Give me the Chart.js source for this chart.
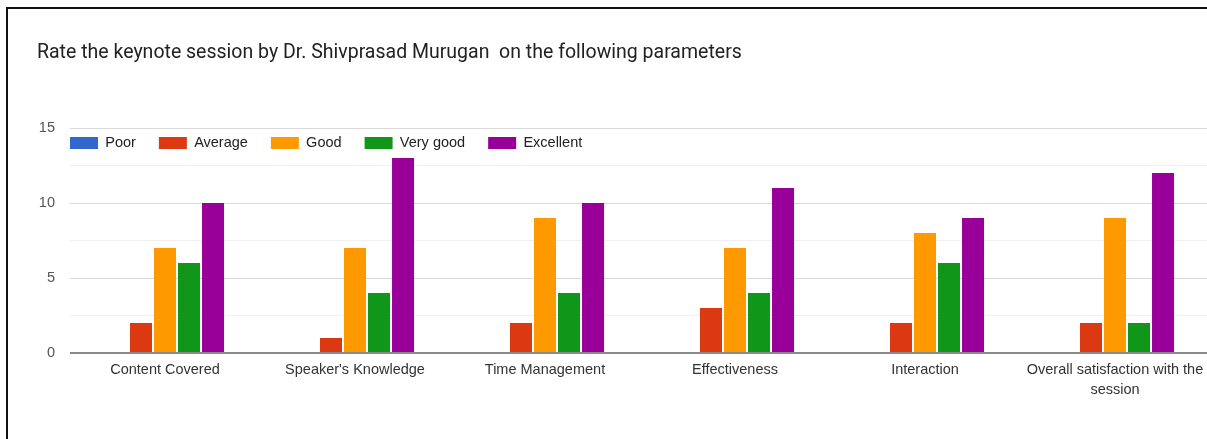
<!DOCTYPE html>
<html>
<head>
<meta charset="utf-8">
<script src="https://cdn.jsdelivr.net/npm/chart.js@4/dist/chart.umd.min.js"></script>
<style>
  html, body { margin: 0; padding: 0; background: #fff; overflow: hidden; width: 1207px; height: 439px; }
  #wrap { position: absolute; left: 0; top: 0; width: 1215px; height: 439px; }
  #frame { position: absolute; left: 6px; top: 7px; width: 1300px; height: 500px;
           border-left: 2px solid #111; border-top: 2px solid #111; pointer-events: none; }
</style>
</head>
<body>
<div id="wrap"><canvas id="c" width="1215" height="439"></canvas></div>
<div id="frame"></div>
<script>
const titleText = "Rate the keynote session by Dr. Shivprasad Murugan  on the following parameters";
const categories = [
  "Content Covered",
  "Speaker's Knowledge",
  "Time Management",
  "Effectiveness",
  "Interaction",
  ["Overall satisfaction with the", "session"]
];
const seriesNames = ["Poor", "Average", "Good", "Very good", "Excellent"];
const poor     = [0, 0, 0, 0, 0, 0];
const average  = [2, 1, 2, 3, 2, 2];
const good     = [7, 7, 9, 7, 8, 9];
const veryGood = [6, 4, 4, 4, 6, 2];
const excellent= [10, 13, 10, 11, 9, 12];
const seriesColors = ["#3366cc", "#dc3912", "#ff9900", "#109618", "#990099"];
const yTicks = [0, 5, 10, 15];

const seriesValues = [poor, average, good, veryGood, excellent];

// Legend sits inside the plot area (overlaying the top band), like the source chart.
const legendInside = {
  id: 'legendInside',
  beforeLayout(chart) {
    const lg = chart.legend;
    if (lg && !lg._zeroFit) {
      const orig = lg.fit.bind(lg);
      lg.fit = function () { orig(); this.height = 0; };
      lg._zeroFit = true;
    }
  },
  afterLayout(chart) {
    const lg = chart.legend;
    const pad = lg.options.labels.padding;
    lg.left = chart.chartArea.left - pad;
    lg.right = chart.chartArea.right;
    lg.top = 135.75 - pad;
    lg.bottom = lg.top + 60;
    lg.width = lg.right - lg.left;
    lg.height = lg.bottom - lg.top;
  }
};

new Chart(document.getElementById('c'), {
  type: 'bar',
  data: {
    labels: categories,
    datasets: seriesNames.map((n, i) => ({
      label: n,
      data: seriesValues[i],
      backgroundColor: seriesColors[i],
      borderWidth: 0,
      categoryPercentage: 0.632,
      barPercentage: 0.917
    }))
  },
  plugins: [legendInside],
  options: {
    responsive: false,
    animation: false,
    layout: { padding: { left: 37, right: 5, top: 0, bottom: 0 } },
    plugins: {
      tooltip: { enabled: false },
      title: {
        display: true,
        text: titleText,
        align: 'start',
        color: '#222',
        font: { family: 'Roboto', size: 19.5, weight: 'normal', lineHeight: 1.2 },
        padding: { top: 41.3, bottom: 63.3 }
      },
      legend: {
        position: 'top',
        align: 'start',
        labels: {
          boxWidth: 28,
          boxHeight: 12,
          padding: 23,
          color: '#222',
          font: { family: 'Liberation Sans, Arial', size: 14.5 }
        }
      }
    },
    scales: {
      x: {
        grid: { display: false, drawTicks: false },
        border: { display: false },
        ticks: {
          autoSkip: false,
          maxRotation: 0,
          padding: 7,
          color: '#333',
          font: { family: 'Liberation Sans, Arial', size: 14.5, lineHeight: 1.38 }
        },
        afterFit(s) { s.height = 86; }
      },
      y: {
        min: 0,
        max: 15,
        grid: {
          drawTicks: false,
          color: (ctx) => {
            const v = ctx.tick ? ctx.tick.value : 0;
            if (v === 0) return '#888';
            return yTicks.includes(v) ? '#d9d9d9' : '#efefef';
          },
          lineWidth: (ctx) => (ctx.tick && ctx.tick.value === 0 ? 2 : 1)
        },
        border: { display: false },
        ticks: {
          stepSize: 2.5,
          padding: 15,
          color: '#555',
          font: { family: 'Liberation Sans, Arial', size: 14.5 },
          callback: (v) => (yTicks.includes(v) ? String(v) : '')
        },
        afterFit(s) { s.width = 33; }
      }
    }
  }
});
</script>
</body>
</html>
